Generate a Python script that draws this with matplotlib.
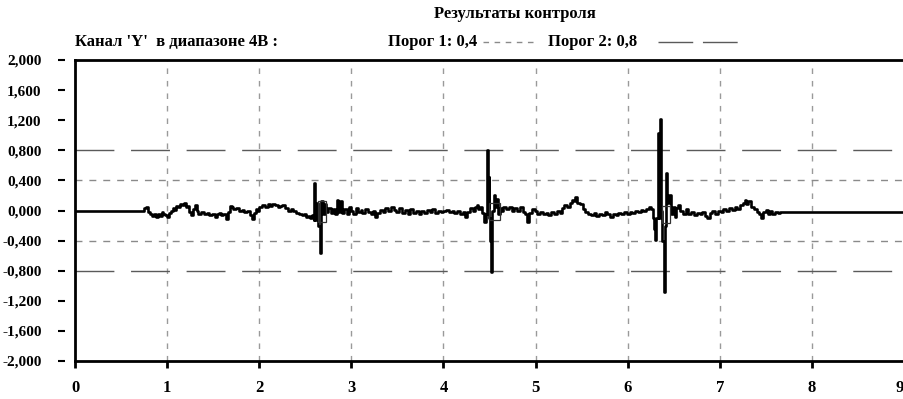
import matplotlib

matplotlib.use("Agg")
import matplotlib.pyplot as plt
import matplotlib.ticker as mticker
from matplotlib.lines import Line2D
from matplotlib.patches import Rectangle

# signal (time, value)
sig_t = [
    0.00, 0.70, 0.72, 0.75, 0.77, 0.79, 0.81, 0.84, 0.86, 0.88, 0.90, 0.92, 0.94, 0.96, 0.98,
    1.00, 1.02, 1.04, 1.06, 1.08, 1.10, 1.12, 1.14, 1.16, 1.18, 1.20, 1.22, 1.24, 1.26, 1.28,
    1.30, 1.32, 1.34, 1.37, 1.40, 1.43, 1.46, 1.49, 1.52, 1.54, 1.56, 1.58, 1.61, 1.64, 1.66,
    1.68, 1.70, 1.72, 1.75, 1.78, 1.81, 1.84, 1.87, 1.90, 1.92, 1.94, 1.96, 1.98, 2.00, 2.03,
    2.06, 2.09, 2.12, 2.14, 2.17, 2.20, 2.23, 2.25, 2.28, 2.31, 2.34, 2.37, 2.40, 2.43, 2.46,
    2.49, 2.51, 2.53, 2.55, 2.57, 2.59, 2.60, 2.61, 2.63, 2.64, 2.66, 2.67, 2.69, 2.71, 2.73,
    2.75, 2.78, 2.80, 2.82, 2.84, 2.86, 2.88, 2.90, 2.92, 2.95, 2.97, 3.00, 3.02, 3.05, 3.07,
    3.10, 3.12, 3.15, 3.18, 3.21, 3.24, 3.26, 3.28, 3.31, 3.34, 3.37, 3.40, 3.43, 3.46, 3.49,
    3.52, 3.55, 3.58, 3.61, 3.64, 3.67, 3.70, 3.73, 3.76, 3.79, 3.82, 3.85, 3.88, 3.91, 3.94,
    3.97, 4.00, 4.03, 4.06, 4.09, 4.12, 4.15, 4.18, 4.21, 4.23, 4.26, 4.29, 4.32, 4.34, 4.36,
    4.38, 4.40, 4.42, 4.44, 4.46, 4.47, 4.48, 4.49, 4.50, 4.51, 4.52, 4.53, 4.55, 4.56, 4.57,
    4.59, 4.61, 4.63, 4.65, 4.68, 4.71, 4.74, 4.77, 4.80, 4.83, 4.86, 4.89, 4.91, 4.93, 4.96,
    4.99, 5.02, 5.05, 5.08, 5.11, 5.14, 5.17, 5.20, 5.23, 5.26, 5.29, 5.31, 5.34, 5.37, 5.40,
    5.42, 5.43, 5.45, 5.48, 5.51, 5.54, 5.57, 5.60, 5.63, 5.66, 5.69, 5.72, 5.75, 5.78, 5.81,
    5.84, 5.87, 5.90, 5.93, 5.96, 5.99, 6.02, 6.05, 6.08, 6.11, 6.14, 6.17, 6.20, 6.23, 6.25,
    6.27, 6.29, 6.30, 6.31, 6.33, 6.34, 6.35, 6.36, 6.37, 6.39, 6.40, 6.42, 6.43, 6.45, 6.47,
    6.49, 6.51, 6.53, 6.55, 6.57, 6.60, 6.63, 6.66, 6.69, 6.72, 6.75, 6.78, 6.81, 6.84, 6.86,
    6.89, 6.92, 6.95, 6.98, 7.01, 7.04, 7.07, 7.10, 7.13, 7.16, 7.19, 7.22, 7.25, 7.27, 7.29,
    7.31, 7.34, 7.37, 7.40, 7.43, 7.45, 7.47, 7.50, 7.52, 7.55, 7.57, 7.60, 7.63, 7.65, 9.00,
]
sig_v = [
    0.00, 0.00, -0.01, 0.03, 0.05, -0.02, -0.05, -0.07, -0.04, -0.08, -0.05, -0.07, -0.02, -0.04, -0.06,
    -0.08, -0.03, 0.00, 0.03, 0.01, 0.06, 0.04, 0.09, 0.07, 0.10, 0.04, 0.06, -0.02, -0.06, 0.02,
    0.07, -0.01, -0.04, -0.02, -0.05, -0.03, -0.06, -0.04, -0.09, -0.05, -0.03, -0.06, -0.04, -0.11, -0.02,
    0.06, 0.04, 0.02, 0.03, -0.01, 0.01, -0.02, 0.00, -0.06, -0.11, -0.03, 0.02, -0.01, 0.04, 0.07,
    0.05, 0.08, 0.06, 0.09, 0.07, 0.04, 0.06, 0.07, 0.03, 0.00, 0.02, -0.01, -0.03, -0.04, -0.06,
    -0.05, -0.08, -0.07, -0.10, -0.06, -0.12, 0.37, -0.12, 0.10, -0.20, -0.56, 0.12, -0.05, 0.08, -0.02,
    0.03, -0.03, 0.02, -0.04, 0.14, -0.02, 0.13, -0.03, 0.02, -0.05, 0.04, 0.00, -0.04, 0.03, -0.02,
    0.01, -0.03, 0.02, -0.02, -0.04, 0.00, -0.08, -0.03, 0.01, -0.02, 0.03, -0.01, 0.04, 0.01, -0.02,
    0.03, -0.03, 0.01, -0.04, 0.02, -0.03, 0.00, -0.04, -0.01, -0.03, 0.01, -0.02, 0.02, -0.03, 0.00,
    -0.02, -0.01, 0.01, -0.02, 0.00, -0.03, -0.01, -0.04, -0.02, -0.08, -0.02, 0.03, 0.00, 0.05, 0.07,
    0.02, 0.05, -0.03, -0.15, -0.05, 0.80, 0.05, 0.45, -0.10, -0.40, -0.82, 0.00, 0.20, 0.05, 0.15,
    -0.05, 0.03, 0.00, 0.05, 0.02, 0.04, -0.01, 0.03, 0.00, 0.04, -0.02, -0.05, -0.15, -0.03, 0.02,
    -0.01, -0.04, -0.02, -0.05, -0.03, -0.06, -0.02, -0.04, 0.00, -0.03, 0.03, 0.07, 0.04, 0.10, 0.14,
    0.12, 0.18, 0.10, 0.08, 0.02, -0.02, -0.04, -0.06, -0.03, -0.07, -0.04, -0.06, -0.02, -0.05, -0.08,
    -0.04, -0.06, -0.03, -0.05, -0.02, -0.04, -0.02, -0.03, 0.00, -0.02, 0.01, -0.01, 0.02, 0.05, 0.02,
    -0.10, -0.25, -0.39, -0.10, 1.03, -0.10, 1.22, 0.00, -0.40, -1.08, -0.20, 0.50, 0.10, 0.20, -0.05,
    0.05, -0.08, 0.03, 0.07, 0.00, -0.04, 0.02, -0.05, -0.02, -0.06, -0.03, -0.05, -0.02, -0.07, -0.10,
    -0.03, -0.01, -0.04, 0.00, -0.02, 0.02, -0.01, 0.03, 0.01, 0.04, 0.02, 0.07, 0.10, 0.14, 0.08,
    0.12, 0.05, 0.02, -0.02, -0.05, -0.10, -0.02, 0.01, -0.04, 0.00, -0.05, -0.02, -0.03, -0.02, -0.02,
]

# small boxes drawn next to each burst: (t0, t1, v0, v1)
box_t0 = [2.64, 4.49, 6.37]
box_t1 = [2.73, 4.61, 6.46]
box_v0 = [-0.15, -0.13, -0.17]
box_v1 = [0.13, 0.10, 0.06]

threshold_1 = 0.4
threshold_2 = 0.8
x_ticks = list(range(0, 10))
y_ticks = [-2.0, -1.6, -1.2, -0.8, -0.4, 0.0, 0.4, 0.8, 1.2, 1.6, 2.0]

FONT = "Liberation Serif"
GRID_C = "#9a9a9a"
THR1_C = "#8a8a8a"
THR2_C = "#5a5a5a"
HDR_PT = 12

plt.rcParams.update({
    "font.family": FONT,
    "font.weight": "bold",
})

fig = plt.figure(figsize=(9.04, 3.99), dpi=100)
ax = fig.add_axes([75 / 904, 38 / 399, 829 / 904, 301 / 399])

ax.set_xlim(0, 9)
ax.set_ylim(-2.0, 2.0)

for xv in x_ticks[1:]:
    ax.axvline(xv, color=GRID_C, lw=1.0, dashes=(4, 5), zorder=1)
for sgn in (1, -1):
    ax.axhline(sgn * threshold_1, color=THR1_C, lw=1.0, dashes=(5, 5), zorder=1)
    ax.axhline(sgn * threshold_2, color=THR2_C, lw=1.0, dashes=(28, 12), zorder=1)

ax.plot(sig_t, sig_v, color="black", lw=1.9, drawstyle="steps-post", zorder=3)

for t0, t1, v0, v1 in zip(box_t0, box_t1, box_v0, box_v1):
    ax.add_patch(Rectangle((t0, v0), t1 - t0, v1 - v0, fill=False,
                           edgecolor="#333333", lw=0.9, zorder=4))

# frame: thick top, bottom and left line, ticks on the left sit apart from it
for side in ("top", "bottom"):
    ax.spines[side].set_linewidth(2.0)
ax.spines["right"].set_visible(False)
ax.spines["left"].set_position(("outward", 7))
ax.spines["left"].set_visible(False)
ax.axvline(0, color="black", lw=2.0, zorder=5, clip_on=False)

ax.set_xticks(x_ticks)
ax.set_yticks(y_ticks)
ax.yaxis.set_major_formatter(
    mticker.FuncFormatter(lambda v, _: f"{v:.3f}".replace(".", ",").replace("-0,000", "0,000")))
ax.tick_params(axis="x", direction="out", length=5, width=2, pad=9, labelsize=12)
ax.tick_params(axis="y", direction="out", length=5, width=1.5, pad=12, labelsize=11)
for lab in ax.get_xticklabels() + ax.get_yticklabels():
    lab.set_fontweight("bold")
# last x label sits on the figure edge, keep it inside
ax.get_xticklabels()[-1].set_horizontalalignment("right")

# header
fig.text(515 / 904, 1 - 14 / 399, "Результаты контроля", ha="center", va="center",
         fontsize=HDR_PT, fontweight="bold")
hy = 1 - 42 / 399
fig.text(75 / 904, hy, "Канал 'Y'  в диапазоне 4В :", ha="left", va="center",
         fontsize=HDR_PT, fontweight="bold")
fig.text(388 / 904, hy, "Порог 1: 0,4", ha="left", va="center", fontsize=HDR_PT, fontweight="bold")
fig.add_artist(Line2D([483 / 904, 535 / 904], [hy, hy], color=THR1_C, lw=1.0, dashes=(4, 4)))
fig.text(548 / 904, hy, "Порог 2: 0,8", ha="left", va="center", fontsize=HDR_PT, fontweight="bold")
fig.add_artist(Line2D([658 / 904, 745 / 904], [hy, hy], color=THR2_C, lw=1.0, dashes=(25, 7)))

fig.savefig("out.png", dpi=100)
